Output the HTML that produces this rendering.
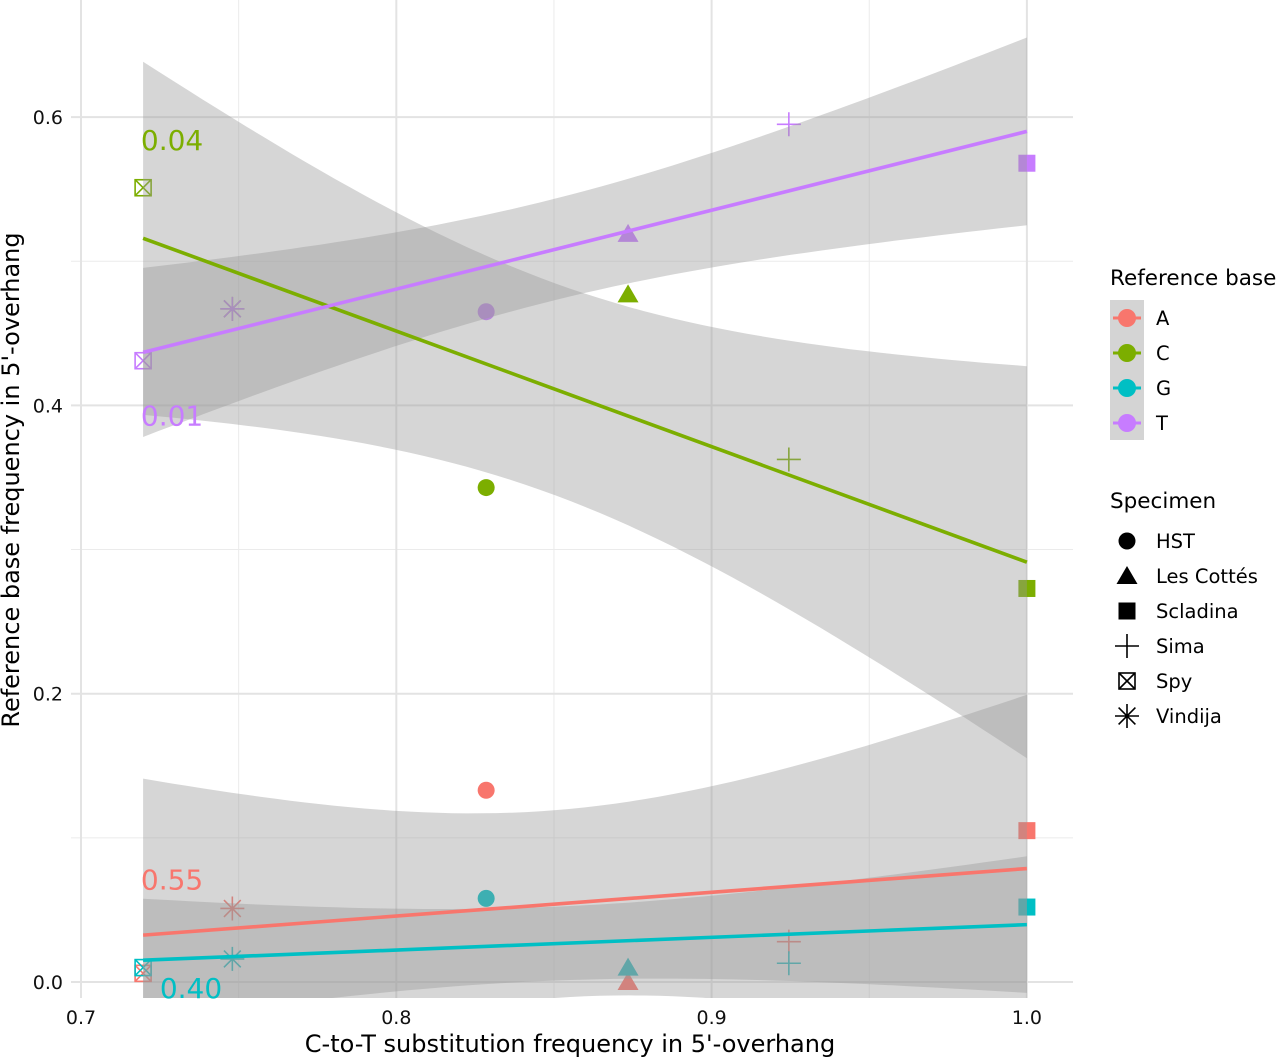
<!DOCTYPE html>
<html><head><meta charset="utf-8"><style>
body{margin:0;background:#fff;}
svg{display:block;font-family:"DejaVu Sans","Liberation Sans",sans-serif;}
</style></head><body>
<svg id="chart" width="1280" height="1057" viewBox="0 0 1280 1057">
<defs><clipPath id="pc"><rect x="71" y="0" width="1002" height="998"/></clipPath></defs>
<g id="grid"></g>
<g id="points"></g>
<g id="ribbons" clip-path="url(#pc)"></g>
<g id="lines" clip-path="url(#pc)"></g>
<g id="pvals"></g>
<g id="axes"></g>
<text x="570" y="1052" text-anchor="middle" font-size="24" fill="#000">C-to-T substitution frequency in 5'-overhang</text>
<text transform="translate(19,480) rotate(-90)" text-anchor="middle" font-size="24" fill="#000">Reference base frequency in 5'-overhang</text>
<g id="legend"></g>
</svg>
<script>
const specimens = ["Spy","Vindija","HST","Les Cottés","Sima","Scladina"];
const shapes = ["spy","star","circle","triangle","plus","square"];
const ctFreq = [0.7197,0.748,0.8285,0.8735,0.9245,1.0];
const bases = ["A","C","G","T"];
const baseColors = ["#F8766D","#7CAE00","#00BFC4","#C77CFF"];
const freqA = [0.006,0.051,0.133,0.0,0.028,0.105];
const freqC = [0.551,0.467,0.343,0.477,0.3625,0.273];
const freqG = [0.010,0.016,0.058,0.010,0.013,0.052];
const freqT = [0.431,0.467,0.465,0.519,0.595,0.568];
const pLabels = ["0.55","0.04","0.40","0.01"];
const pLabelPos = [[0.719,0.071],[0.719,0.584],[0.725,-0.004],[0.719,0.393]];
const xTicks = [0.7,0.8,0.9,1.0];
const xMinor = [0.75,0.85,0.95];
const yTicks = [0.0,0.2,0.4,0.6];
const yMinor = [0.1,0.3,0.5];

const NS="http://www.w3.org/2000/svg";
const X = v => 81 + (v-0.7)*3153;
const Y = v => 982 - v*1441.5;
function mk(tag, attrs, parent){const e=document.createElementNS(NS,tag);for(const k in attrs)e.setAttribute(k,attrs[k]);parent.appendChild(e);return e;}
const series=[freqA,freqC,freqG,freqT];
const grid=document.getElementById('grid');
xMinor.forEach(v=>{const l=mk('line',{x1:X(v),x2:X(v),y1:0,y2:998,stroke:'#ebebeb','stroke-width':1},grid);

});
yMinor.forEach(v=>{const l=mk('line',{x1:71,x2:1073,y1:Y(v),y2:Y(v),stroke:'#ebebeb','stroke-width':1},grid);

});
xTicks.forEach(v=>{const l=mk('line',{x1:X(v),x2:X(v),y1:0,y2:998,stroke:'#e3e3e3','stroke-width':2},grid);

});
yTicks.forEach(v=>{const l=mk('line',{x1:71,x2:1073,y1:Y(v),y2:Y(v),stroke:'#e3e3e3','stroke-width':2},grid);

});
const axes=document.getElementById('axes');
xTicks.forEach(v=>{const t=mk('text',{x:X(v),y:1024,'text-anchor':'middle','font-size':19,fill:'#111'},axes);t.textContent=v.toFixed(1);

});
yTicks.forEach(v=>{const t=mk('text',{x:63,y:Y(v)+7,'text-anchor':'end','font-size':19,fill:'#111'},axes);t.textContent=v.toFixed(1);

});

const n=ctFreq.length, tq=2.776;
const xm=ctFreq.reduce((a,b)=>a+b)/n;
const Sxx=ctFreq.reduce((a,x)=>a+(x-xm)**2,0);
const rib=document.getElementById('ribbons'), lg=document.getElementById('lines');
const fits=series.map(ys=>{const ym=ys.reduce((a,b)=>a+b)/n;let sxy=0;ctFreq.forEach((x,i)=>sxy+=(x-xm)*(ys[i]-ym));
const b=sxy/Sxx,a=ym-b*xm;let sse=0;ctFreq.forEach((x,i)=>sse+=(ys[i]-a-b*x)**2);return {a,b,s:Math.sqrt(sse/(n-2))};});
const x0=Math.min(...ctFreq), x1=Math.max(...ctFreq);
fits.forEach((f,k)=>{const up=[],lo=[];for(let i=0;i<=60;i++){const x=x0+(x1-x0)*i/60;const yh=f.a+f.b*x;const se=f.s*Math.sqrt(1/n+(x-xm)**2/Sxx);
up.push(X(x).toFixed(1)+','+Y(yh+tq*se).toFixed(1));lo.unshift(X(x).toFixed(1)+','+Y(yh-tq*se).toFixed(1));}
const p=mk('polygon',{points:up.concat(lo).join(' '),fill:'#999','fill-opacity':0.4},rib);

});
const pg=document.getElementById('points');
function shape(kind,cx,cy,col,parent){const g=mk('g',{},parent);const s=8;
if(kind==='circle')mk('circle',{cx,cy,r:8.5,fill:col},g);
else if(kind==='triangle')mk('polygon',{points:`${cx},${cy-10} ${cx-10.5},${cy+8} ${cx+10.5},${cy+8}`,fill:col},g);
else if(kind==='square')mk('rect',{x:cx-8.5,y:cy-8.5,width:17,height:17,fill:col},g);
else if(kind==='plus'){mk('path',{d:`M${cx-12},${cy}H${cx+12}M${cx},${cy-12}V${cy+12}`,stroke:col,'stroke-width':1.6,fill:'none'},g);}
else if(kind==='spy'){mk('rect',{x:cx-s,y:cy-s,width:2*s,height:2*s,stroke:col,'stroke-width':1.6,fill:'none'},g);mk('path',{d:`M${cx-s},${cy-s}L${cx+s},${cy+s}M${cx+s},${cy-s}L${cx-s},${cy+s}`,stroke:col,'stroke-width':1.6},g);}
else if(kind==='star'){const r=12;mk('path',{d:`M${cx-r},${cy}H${cx+r}M${cx},${cy-r}V${cy+r}M${cx-r*0.7},${cy-r*0.7}L${cx+r*0.7},${cy+r*0.7}M${cx+r*0.7},${cy-r*0.7}L${cx-r*0.7},${cy+r*0.7}`,stroke:col,'stroke-width':1.6},g);}
return g;}
series.forEach((ys,k)=>ys.forEach((y,i)=>{const g=shape(shapes[i],X(ctFreq[i]),Y(y),baseColors[k],pg);

}));
fits.forEach((f,k)=>{const l=mk('line',{x1:X(x0),y1:Y(f.a+f.b*x0),x2:X(x1),y2:Y(f.a+f.b*x1),stroke:baseColors[k],'stroke-width':3.6},lg);

});
const pv=document.getElementById('pvals');
pLabels.forEach((s,k)=>{const t=mk('text',{x:X(pLabelPos[k][0]),y:Y(pLabelPos[k][1])+10,'font-size':28,fill:baseColors[k]},pv);t.textContent=s;

});
const lgd=document.getElementById('legend');
const t1=mk('text',{x:1110,y:285,'font-size':21.5,fill:'#000'},lgd);t1.textContent='Reference base';


mk('rect',{x:1110,y:300,width:34,height:140,fill:'#d4d4d4'},lgd);
bases.forEach((b,k)=>{const cy=318+k*35;const g=mk('g',{},lgd);
mk('circle',{cx:1127,cy,r:9,fill:baseColors[k]},g);mk('line',{x1:1113,x2:1141,y1:cy,y2:cy,stroke:baseColors[k],'stroke-width':3},g);
const t=mk('text',{x:1156,y:cy+7,'font-size':19.5,fill:'#000'},g);t.textContent=b;

});
const t2=mk('text',{x:1110,y:508,'font-size':21.5,fill:'#000'},lgd);t2.textContent='Specimen';


const legOrder=[2,3,5,4,0,1];
legOrder.forEach((i,j)=>{const cy=541+j*35;const g=mk('g',{},lgd);shape(shapes[i],1127,cy,'#000',g);
const t=mk('text',{x:1156,y:cy+7,'font-size':19.5,fill:'#000'},g);t.textContent=specimens[i];

});
</script>
</body></html>
